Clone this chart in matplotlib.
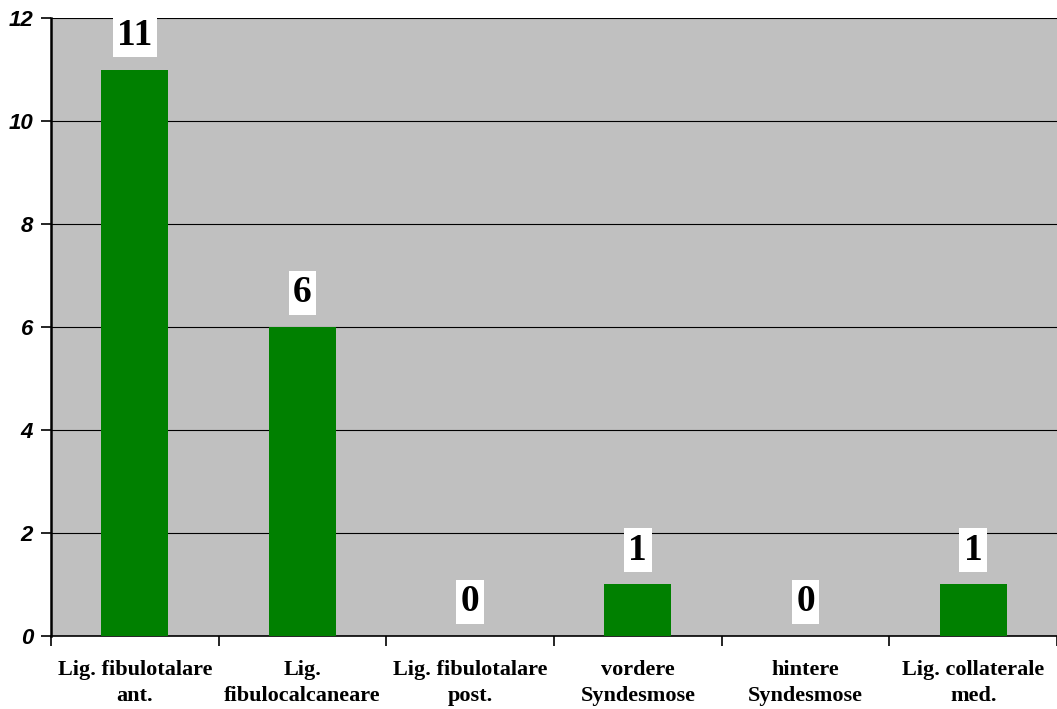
import matplotlib.pyplot as plt
import numpy as np

categories = ["Lig. fibulotalare\nant.", "Lig.\nfibulocalcaneare", "Lig. fibulotalare\npost.",
              "vordere\nSyndesmose", "hintere\nSyndesmose", "Lig. collaterale\nmed."]
counts = [11, 6, 0, 1, 0, 1]
yticks = [0, 2, 4, 6, 8, 10, 12]

fig = plt.figure(figsize=(10.57, 7.09), dpi=100)
ax = fig.add_axes([0.0483, 0.103, 0.9517, 0.8716])
ax.set_facecolor("#C0C0C0")

x = np.arange(len(categories))
ax.bar(x, counts, width=0.4, color="#008000", zorder=3)

ax.set_xlim(-0.5, len(categories) - 0.5)
ax.set_ylim(0, 12)
ax.set_yticks(yticks)
ax.set_yticklabels([str(v) for v in yticks], family="Liberation Sans",
                   fontweight="bold", fontstyle="italic", fontsize=16)
ax.yaxis.grid(True, color="black", linewidth=0.8, zorder=1)
ax.set_axisbelow(True)

# category labels centred, tick marks between categories
ax.set_xticks(x)
ax.set_xticklabels(categories, family="Liberation Serif", fontweight="bold",
                   fontsize=16, linespacing=1.45)
ax.tick_params(axis="x", length=0, pad=17)
ax.set_xticks(np.arange(-0.5, len(categories)), minor=True)
ax.tick_params(axis="x", which="minor", length=7, width=1.2, color="black")
ax.tick_params(axis="y", length=7, width=1.2, pad=6)

for side in ("top", "right"):
    ax.spines[side].set_visible(False)
ax.spines["left"].set_linewidth(1.8)
ax.spines["bottom"].set_linewidth(1.2)

for xi, v in zip(x, counts):
    ax.annotate(str(v), (xi, v), xytext=(0, 12), textcoords="offset points",
                ha="center", va="bottom", family="Liberation Serif",
                fontweight="bold", fontsize=27, zorder=5,
                bbox=dict(boxstyle="square,pad=0.12", fc="white", ec="none"))

fig.savefig("out.png", dpi=100)
